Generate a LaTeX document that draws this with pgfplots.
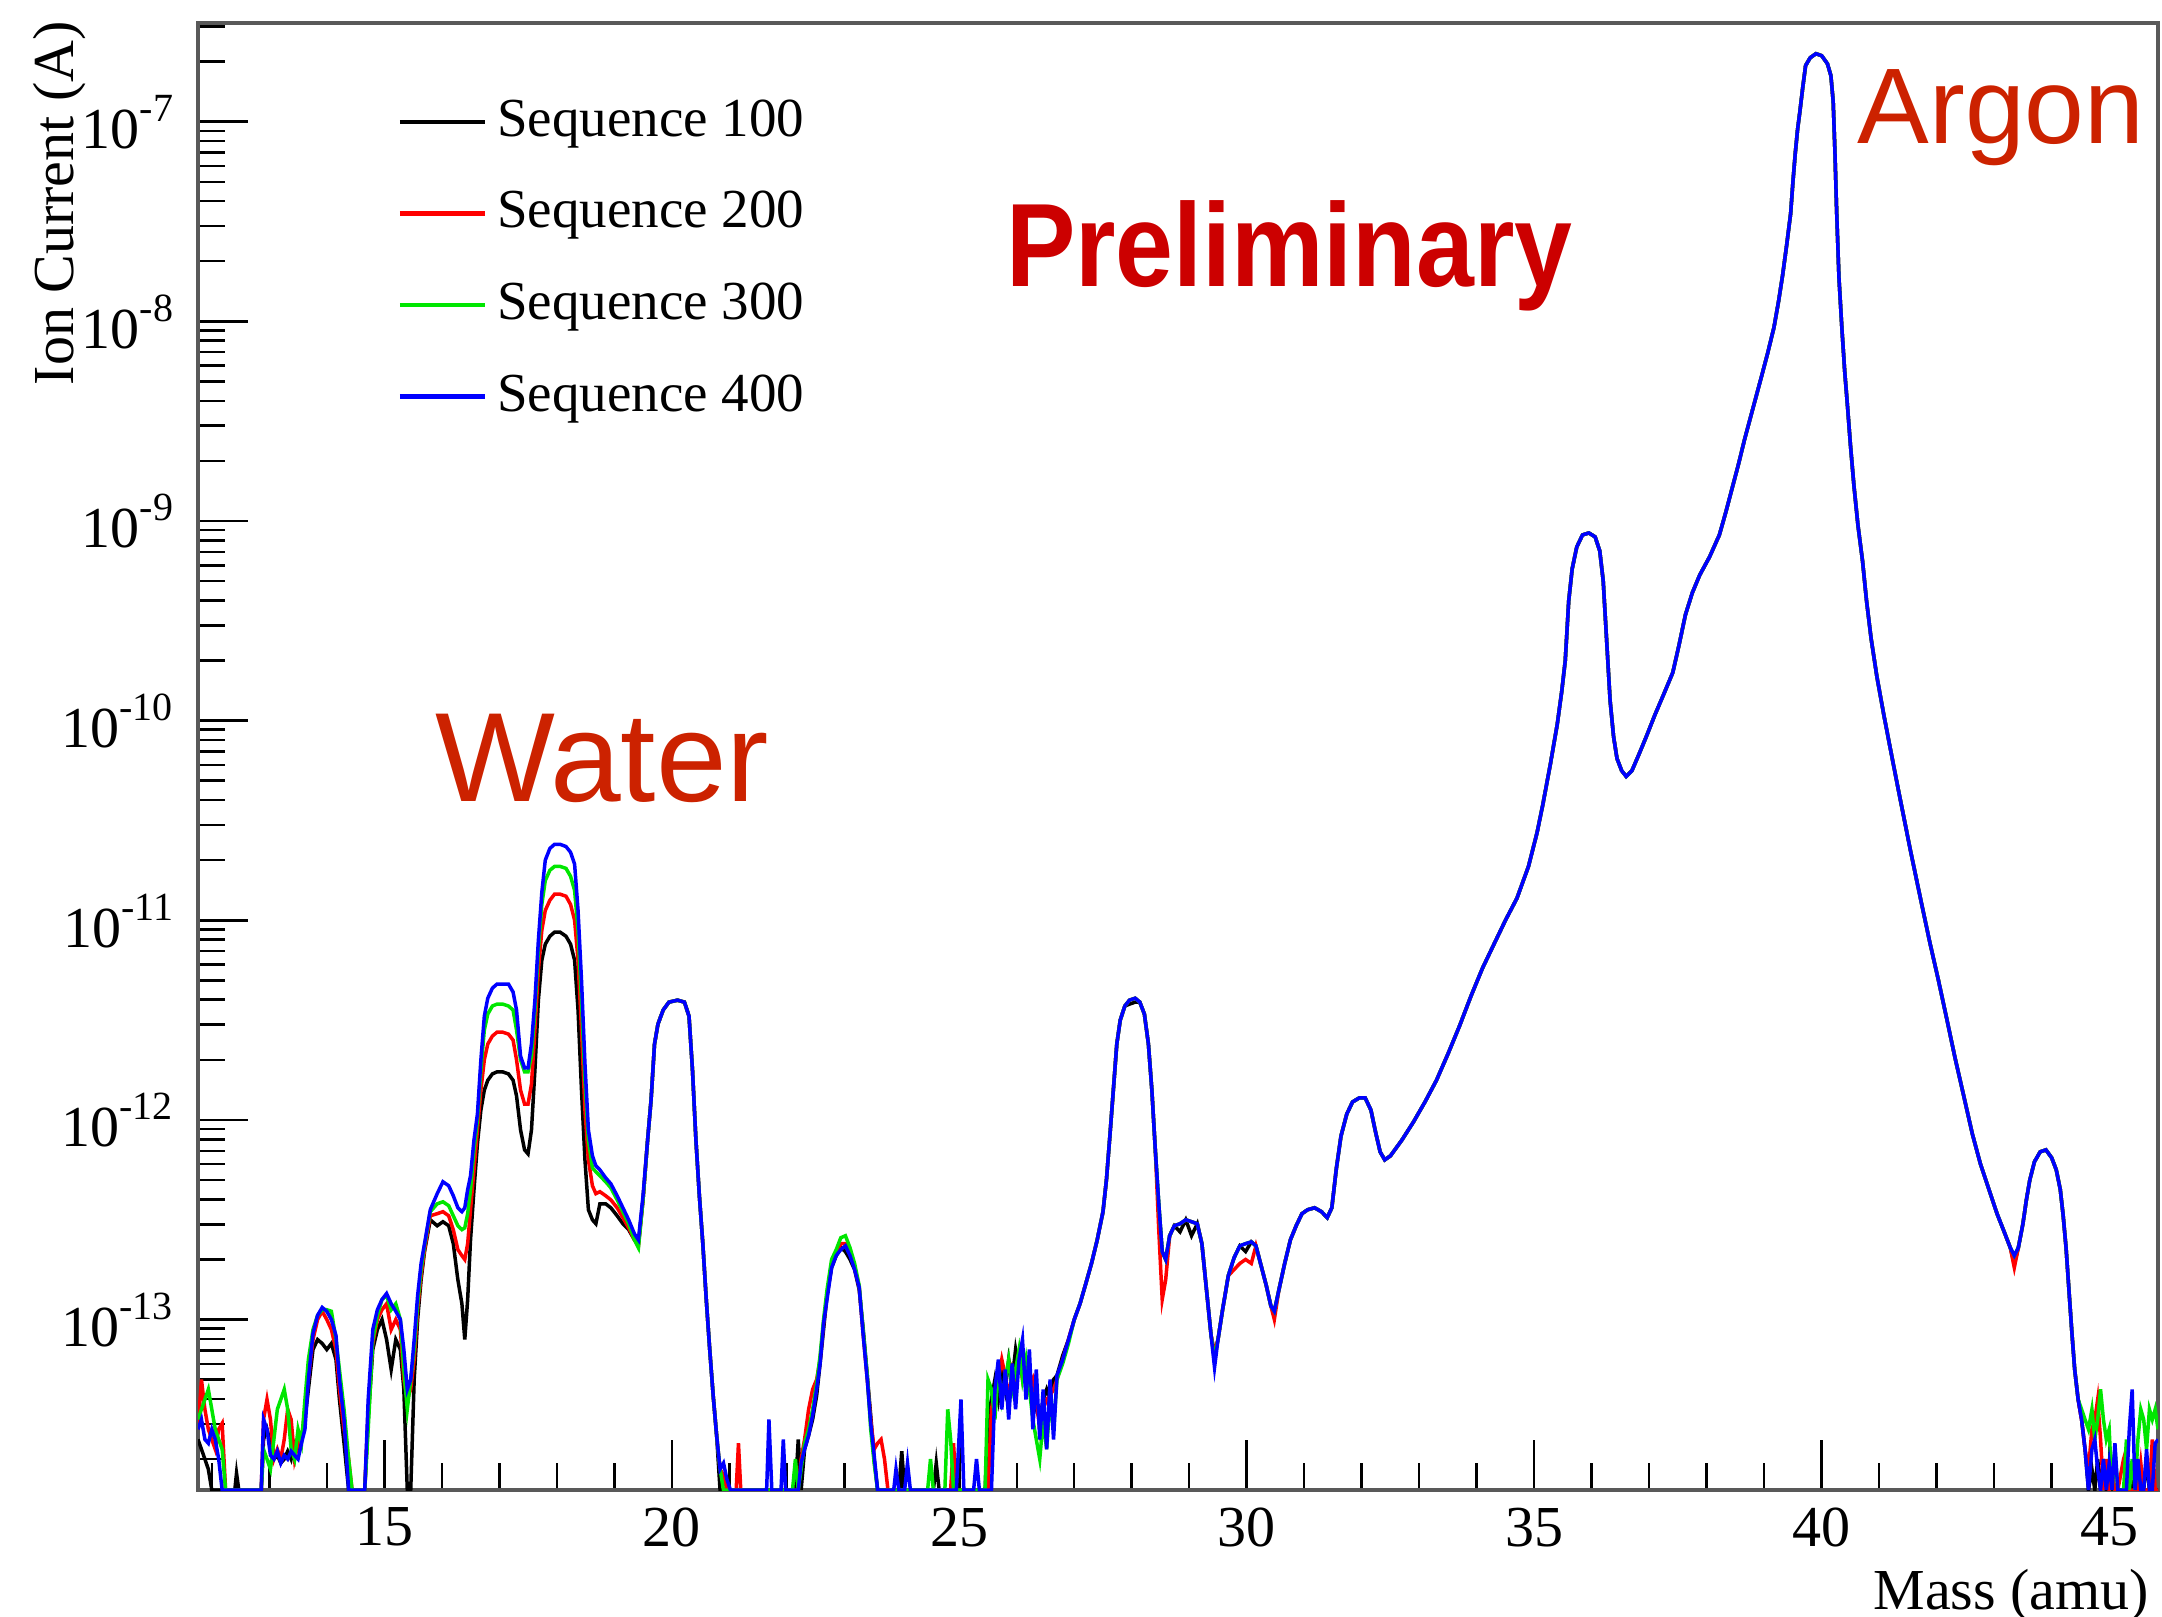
\documentclass[border=0pt]{standalone}
\usepackage{pgfplots}
\usepackage{pgfplotstable}
\pgfplotsset{compat=1.18}
\usepackage{fontspec}
\setmainfont{Liberation Serif}
\newfontfamily\sansf{Liberation Sans}
\definecolor{annot}{RGB}{204,34,0}
\definecolor{prelim}{RGB}{204,0,0}
\definecolor{sblue}{RGB}{0,0,255}
\definecolor{sgreen}{RGB}{0,230,0}
\definecolor{sred}{RGB}{255,0,0}
\newcommand{\pt}[1]{10\raisebox{5.4pt}{\fontsize{8}{9}\selectfont #1}}

% columns: mass, Sequence 100, 200, 300, 400 (ion current in A)
\pgfplotstableread{
x a b c d
11.76 2.51e-14 2.82e-14 3.16e-14 2.82e-14
11.82 2.24e-14 5.01e-14 3.55e-14 3.16e-14
11.88 2.00e-14 3.55e-14 3.98e-14 2.51e-14
11.94 1.78e-14 2.82e-14 4.47e-14 2.40e-14
12.00 1.4e-14 2.51e-14 3.55e-14 2.82e-14
12.06 1.4e-14 2.24e-14 2.82e-14 2.51e-14
12.12 1.4e-14 2.82e-14 2.51e-14 2.00e-14
12.18 1.4e-14 3.02e-14 2.24e-14 1.4e-14
12.24 1.4e-14 1.4e-14 1.4e-14 1.4e-14
12.40 1.4e-14 1.4e-14 1.4e-14 1.4e-14
12.43 1.70e-14 1.4e-14 1.4e-14 1.4e-14
12.47 1.4e-14 1.4e-14 1.4e-14 1.4e-14
12.86 1.4e-14 1.4e-14 1.4e-14 1.4e-14
12.90 2.51e-14 3.16e-14 2.24e-14 3.16e-14
12.96 2.82e-14 3.98e-14 2.00e-14 2.82e-14
13.02 2.40e-14 3.16e-14 1.78e-14 2.09e-14
13.08 2.00e-14 2.00e-14 2.51e-14 2.00e-14
13.14 2.09e-14 2.24e-14 3.55e-14 2.19e-14
13.20 1.91e-14 2.00e-14 3.98e-14 1.91e-14
13.26 2.00e-14 2.51e-14 4.47e-14 2.09e-14
13.32 2.19e-14 3.55e-14 3.55e-14 2.00e-14
13.38 2.00e-14 3.16e-14 2.24e-14 2.19e-14
13.44 2.40e-14 2.00e-14 2.00e-14 2.09e-14
13.50 2.24e-14 2.40e-14 2.82e-14 2.00e-14
13.56 2.51e-14 2.51e-14 2.40e-14 2.40e-14
13.62 3.16e-14 3.55e-14 3.98e-14 2.82e-14
13.68 4.47e-14 5.01e-14 6.31e-14 5.01e-14
13.76 7.08e-14 7.94e-14 8.91e-14 8.51e-14
13.84 7.94e-14 1.00e-13 1.05e-13 1.05e-13
13.92 7.59e-14 1.10e-13 1.12e-13 1.15e-13
14.00 7.08e-14 1.00e-13 1.12e-13 1.10e-13
14.08 7.59e-14 8.91e-14 1.10e-13 1.00e-13
14.16 6.31e-14 7.08e-14 7.94e-14 8.32e-14
14.22 3.98e-14 4.47e-14 5.62e-14 5.01e-14
14.30 2.40e-14 2.82e-14 3.55e-14 3.16e-14
14.38 1.4e-14 2.00e-14 2.00e-14 1.4e-14
14.44 1.4e-14 1.4e-14 1.4e-14 1.4e-14
14.66 1.4e-14 1.4e-14 1.4e-14 1.4e-14
14.72 3.16e-14 3.55e-14 2.82e-14 3.98e-14
14.80 7.08e-14 7.59e-14 7.94e-14 8.91e-14
14.88 8.91e-14 1.00e-13 1.05e-13 1.12e-13
14.96 1.00e-13 1.12e-13 1.26e-13 1.26e-13
15.04 7.94e-14 1.20e-13 1.32e-13 1.35e-13
15.12 5.62e-14 8.91e-14 1.12e-13 1.20e-13
15.20 7.94e-14 1.00e-13 1.20e-13 1.10e-13
15.28 7.08e-14 8.91e-14 1.00e-13 1.00e-13
15.34 4.47e-14 5.01e-14 5.62e-14 7.08e-14
15.40 1.4e-14 3.98e-14 3.55e-14 4.47e-14
15.46 1.4e-14 4.47e-14 5.01e-14 5.01e-14
15.52 5.01e-14 6.31e-14 7.08e-14 7.94e-14
15.58 1.00e-13 1.12e-13 1.20e-13 1.32e-13
15.64 1.58e-13 1.66e-13 1.78e-13 1.91e-13
15.70 2.19e-13 2.24e-13 2.34e-13 2.40e-13
15.80 3.16e-13 3.31e-13 3.47e-13 3.55e-13
15.92 2.95e-13 3.39e-13 3.80e-13 4.27e-13
16.02 3.09e-13 3.47e-13 3.89e-13 4.90e-13
16.12 2.95e-13 3.31e-13 3.72e-13 4.68e-13
16.20 2.40e-13 2.82e-13 3.31e-13 4.17e-13
16.28 1.58e-13 2.24e-13 2.95e-13 3.63e-13
16.35 1.20e-13 2.09e-13 2.82e-13 3.47e-13
16.40 7.94e-14 2.00e-13 2.88e-13 3.63e-13
16.45 1.26e-13 2.40e-13 3.39e-13 4.47e-13
16.50 2.51e-13 3.55e-13 4.47e-13 5.25e-13
16.56 4.47e-13 5.62e-13 7.08e-13 7.94e-13
16.62 7.59e-13 8.91e-13 1.00e-12 1.07e-12
16.68 1.12e-12 1.41e-12 1.78e-12 2.00e-12
16.74 1.41e-12 2.00e-12 2.82e-12 3.31e-12
16.80 1.58e-12 2.40e-12 3.39e-12 4.07e-12
16.88 1.70e-12 2.63e-12 3.72e-12 4.57e-12
16.96 1.74e-12 2.75e-12 3.80e-12 4.79e-12
17.06 1.74e-12 2.75e-12 3.80e-12 4.79e-12
17.16 1.70e-12 2.69e-12 3.72e-12 4.79e-12
17.24 1.58e-12 2.51e-12 3.55e-12 4.37e-12
17.30 1.32e-12 2.00e-12 2.82e-12 3.55e-12
17.37 8.91e-13 1.41e-12 2.00e-12 2.09e-12
17.44 7.08e-13 1.20e-12 1.74e-12 1.82e-12
17.50 6.76e-13 1.20e-12 1.74e-12 1.82e-12
17.56 8.91e-13 1.51e-12 2.09e-12 2.40e-12
17.62 1.78e-12 2.82e-12 3.55e-12 3.98e-12
17.68 3.98e-12 5.62e-12 7.08e-12 7.94e-12
17.74 6.31e-12 8.91e-12 1.20e-11 1.38e-11
17.80 7.59e-12 1.12e-11 1.58e-11 2.00e-11
17.88 8.32e-12 1.26e-11 1.78e-11 2.29e-11
17.96 8.71e-12 1.35e-11 1.86e-11 2.40e-11
18.06 8.71e-12 1.35e-11 1.86e-11 2.40e-11
18.16 8.32e-12 1.32e-11 1.82e-11 2.34e-11
18.24 7.59e-12 1.20e-11 1.66e-11 2.19e-11
18.31 6.31e-12 1.00e-11 1.41e-11 1.91e-11
18.37 3.55e-12 6.31e-12 8.91e-12 1.12e-11
18.43 1.41e-12 2.82e-12 3.98e-12 5.01e-12
18.49 6.31e-13 1.12e-12 1.58e-12 1.91e-12
18.55 3.55e-13 6.31e-13 7.94e-13 8.91e-13
18.62 3.16e-13 4.68e-13 5.75e-13 6.61e-13
18.68 3.02e-13 4.27e-13 5.50e-13 5.89e-13
18.75 3.80e-13 4.37e-13 5.25e-13 5.62e-13
18.85 3.80e-13 4.17e-13 4.90e-13 5.13e-13
18.94 3.63e-13 3.98e-13 4.57e-13 4.79e-13
19.05 3.31e-13 3.63e-13 3.98e-13 4.17e-13
19.15 3.02e-13 3.24e-13 3.47e-13 3.63e-13
19.25 2.82e-13 2.88e-13 3.02e-13 3.16e-13
19.35 2.51e-13 2.51e-13 2.51e-13 2.69e-13
19.42 2.40e-13 2.34e-13 2.29e-13 2.51e-13
19.50 3.98e-13 3.98e-13 3.98e-13 4.17e-13
19.58 7.94e-13 7.94e-13 7.94e-13 7.94e-13
19.64 1.26e-12 1.26e-12 1.26e-12 1.26e-12
19.70 2.40e-12 2.40e-12 2.40e-12 2.40e-12
19.76 3.02e-12 3.02e-12 3.02e-12 3.02e-12
19.85 3.55e-12 3.55e-12 3.55e-12 3.55e-12
19.95 3.89e-12 3.89e-12 3.89e-12 3.89e-12
20.10 3.98e-12 3.98e-12 3.98e-12 3.98e-12
20.22 3.89e-12 3.89e-12 3.89e-12 3.89e-12
20.30 3.31e-12 3.31e-12 3.31e-12 3.31e-12
20.36 1.78e-12 1.78e-12 1.78e-12 1.78e-12
20.42 7.94e-13 7.94e-13 7.94e-13 7.94e-13
20.48 4.17e-13 4.17e-13 4.17e-13 4.17e-13
20.54 2.40e-13 2.40e-13 2.40e-13 2.40e-13
20.60 1.26e-13 1.26e-13 1.26e-13 1.26e-13
20.66 7.08e-14 7.08e-14 7.08e-14 7.08e-14
20.72 4.17e-14 4.17e-14 4.17e-14 4.17e-14
20.78 2.63e-14 2.63e-14 2.63e-14 2.63e-14
20.84 1.4e-14 1.78e-14 1.78e-14 1.78e-14
20.90 1.4e-14 1.66e-14 1.4e-14 1.91e-14
20.96 1.4e-14 1.4e-14 1.4e-14 1.58e-14
21.02 1.4e-14 1.4e-14 1.4e-14 1.4e-14
21.12 1.4e-14 1.4e-14 1.4e-14 1.4e-14
21.16 1.4e-14 2.40e-14 1.4e-14 1.4e-14
21.20 1.4e-14 1.4e-14 1.4e-14 1.4e-14
21.65 1.4e-14 1.4e-14 1.4e-14 1.4e-14
21.69 1.4e-14 1.4e-14 1.4e-14 3.16e-14
21.74 1.4e-14 1.4e-14 1.4e-14 1.4e-14
21.90 1.4e-14 1.4e-14 1.4e-14 1.4e-14
21.94 1.4e-14 1.4e-14 1.4e-14 2.51e-14
21.98 1.4e-14 1.4e-14 1.4e-14 1.4e-14
22.10 1.4e-14 1.4e-14 1.4e-14 1.4e-14
22.15 1.4e-14 1.4e-14 2.00e-14 1.4e-14
22.20 2.51e-14 1.4e-14 1.4e-14 1.4e-14
22.25 1.4e-14 2.00e-14 1.78e-14 1.91e-14
22.31 2.24e-14 2.51e-14 2.40e-14 2.24e-14
22.38 2.63e-14 3.55e-14 2.82e-14 2.63e-14
22.45 3.16e-14 4.47e-14 3.55e-14 3.31e-14
22.52 4.17e-14 5.01e-14 4.79e-14 4.47e-14
22.58 6.03e-14 6.31e-14 6.61e-14 6.03e-14
22.64 8.91e-14 9.55e-14 1.00e-13 9.55e-14
22.70 1.32e-13 1.32e-13 1.41e-13 1.26e-13
22.78 1.82e-13 1.91e-13 2.00e-13 1.82e-13
22.86 2.09e-13 2.14e-13 2.24e-13 2.09e-13
22.94 2.29e-13 2.40e-13 2.57e-13 2.24e-13
23.02 2.19e-13 2.40e-13 2.63e-13 2.34e-13
23.10 2.00e-13 2.14e-13 2.29e-13 2.09e-13
23.18 1.78e-13 1.82e-13 1.91e-13 1.78e-13
23.26 1.41e-13 1.45e-13 1.48e-13 1.45e-13
23.33 8.91e-14 8.32e-14 8.71e-14 8.32e-14
23.40 5.25e-14 5.01e-14 5.25e-14 5.01e-14
23.46 3.31e-14 3.16e-14 2.82e-14 3.02e-14
23.52 2.00e-14 2.24e-14 1.91e-14 2.09e-14
23.58 1.4e-14 2.40e-14 1.4e-14 1.4e-14
23.64 1.4e-14 2.51e-14 1.4e-14 1.4e-14
23.70 1.4e-14 2.00e-14 1.4e-14 1.4e-14
23.76 1.4e-14 1.4e-14 1.4e-14 1.4e-14
23.86 1.4e-14 1.4e-14 1.4e-14 1.4e-14
23.90 1.4e-14 1.4e-14 1.4e-14 1.78e-14
23.95 1.4e-14 1.4e-14 1.4e-14 1.4e-14
24.00 2.19e-14 1.4e-14 1.4e-14 1.4e-14
24.05 1.4e-14 1.4e-14 1.4e-14 1.4e-14
24.10 1.4e-14 1.4e-14 1.4e-14 1.91e-14
24.15 1.4e-14 1.4e-14 1.4e-14 1.4e-14
24.45 1.4e-14 1.4e-14 1.4e-14 1.4e-14
24.50 1.4e-14 1.4e-14 2.00e-14 1.4e-14
24.55 1.4e-14 1.4e-14 1.4e-14 1.4e-14
24.60 1.91e-14 1.4e-14 1.4e-14 1.4e-14
24.65 1.4e-14 1.4e-14 1.4e-14 1.4e-14
24.75 1.4e-14 1.4e-14 1.4e-14 1.4e-14
24.80 1.4e-14 1.4e-14 3.55e-14 1.4e-14
24.85 1.4e-14 1.4e-14 2.51e-14 1.4e-14
24.90 1.4e-14 2.40e-14 1.4e-14 1.4e-14
24.95 1.4e-14 1.4e-14 1.4e-14 1.4e-14
25.03 1.4e-14 1.4e-14 1.4e-14 3.98e-14
25.08 1.4e-14 1.4e-14 1.4e-14 1.4e-14
25.25 1.4e-14 1.4e-14 1.4e-14 1.4e-14
25.30 1.4e-14 1.4e-14 1.4e-14 2.00e-14
25.35 1.4e-14 1.4e-14 1.4e-14 1.4e-14
25.45 1.4e-14 1.4e-14 1.4e-14 1.4e-14
25.50 3.16e-14 1.4e-14 5.01e-14 1.4e-14
25.56 3.98e-14 3.55e-14 4.47e-14 1.4e-14
25.62 5.01e-14 4.47e-14 3.16e-14 4.47e-14
25.68 3.98e-14 5.01e-14 5.62e-14 6.31e-14
25.74 5.62e-14 6.31e-14 3.98e-14 3.55e-14
25.80 4.47e-14 5.25e-14 5.01e-14 5.62e-14
25.86 6.31e-14 3.98e-14 6.31e-14 3.16e-14
25.92 5.01e-14 5.62e-14 4.47e-14 6.03e-14
25.98 7.08e-14 5.01e-14 5.62e-14 3.55e-14
26.04 5.62e-14 6.61e-14 7.08e-14 6.31e-14
26.10 6.31e-14 5.01e-14 5.01e-14 7.94e-14
26.16 5.01e-14 5.62e-14 6.31e-14 3.98e-14
26.22 5.62e-14 4.47e-14 4.47e-14 7.08e-14
26.28 4.47e-14 5.01e-14 3.16e-14 2.82e-14
26.34 3.55e-14 3.98e-14 2.51e-14 5.62e-14
26.40 3.16e-14 2.82e-14 2.00e-14 2.51e-14
26.46 3.98e-14 3.55e-14 3.16e-14 4.47e-14
26.52 4.47e-14 3.98e-14 2.24e-14 2.24e-14
26.58 3.98e-14 4.17e-14 3.98e-14 5.01e-14
26.64 5.01e-14 4.47e-14 2.82e-14 2.51e-14
26.70 5.25e-14 5.01e-14 5.01e-14 5.25e-14
26.80 6.61e-14 6.31e-14 6.03e-14 6.31e-14
26.90 7.94e-14 7.94e-14 7.59e-14 7.94e-14
27.00 1.00e-13 1.00e-13 1.00e-13 1.00e-13
27.10 1.20e-13 1.20e-13 1.20e-13 1.20e-13
27.20 1.51e-13 1.51e-13 1.51e-13 1.51e-13
27.30 1.91e-13 1.91e-13 1.91e-13 1.91e-13
27.40 2.51e-13 2.51e-13 2.51e-13 2.51e-13
27.50 3.47e-13 3.47e-13 3.47e-13 3.47e-13
27.56 5.01e-13 5.01e-13 5.01e-13 5.01e-13
27.62 8.32e-13 8.32e-13 8.32e-13 8.32e-13
27.68 1.41e-12 1.41e-12 1.41e-12 1.41e-12
27.74 2.40e-12 2.40e-12 2.40e-12 2.40e-12
27.80 3.16e-12 3.16e-12 3.16e-12 3.16e-12
27.88 3.72e-12 3.72e-12 3.72e-12 3.72e-12
27.96 3.80e-12 3.98e-12 3.98e-12 3.98e-12
28.06 3.89e-12 4.07e-12 4.07e-12 4.07e-12
28.14 3.89e-12 3.89e-12 3.89e-12 3.89e-12
28.22 3.39e-12 3.39e-12 3.39e-12 3.39e-12
28.29 2.40e-12 2.40e-12 2.40e-12 2.40e-12
28.35 1.41e-12 1.41e-12 1.41e-12 1.41e-12
28.41 7.08e-13 7.08e-13 7.08e-13 7.08e-13
28.47 3.80e-13 2.82e-13 3.80e-13 3.80e-13
28.53 2.19e-13 1.26e-13 2.19e-13 2.19e-13
28.59 2.00e-13 1.58e-13 2.00e-13 2.00e-13
28.66 2.63e-13 2.63e-13 2.63e-13 2.63e-13
28.74 2.95e-13 2.95e-13 2.95e-13 2.95e-13
28.84 2.75e-13 3.02e-13 3.02e-13 3.02e-13
28.94 3.16e-13 3.16e-13 3.16e-13 3.16e-13
29.04 2.63e-13 3.09e-13 3.09e-13 3.09e-13
29.14 3.02e-13 3.02e-13 3.02e-13 3.02e-13
29.22 2.40e-13 2.40e-13 2.40e-13 2.40e-13
29.30 1.41e-13 1.41e-13 1.41e-13 1.41e-13
29.38 8.32e-14 8.32e-14 8.32e-14 8.32e-14
29.44 6.76e-14 6.76e-14 6.31e-14 5.75e-14
29.50 7.94e-14 7.94e-14 7.94e-14 7.94e-14
29.58 1.12e-13 1.12e-13 1.12e-13 1.12e-13
29.68 1.66e-13 1.66e-13 1.66e-13 1.66e-13
29.78 2.04e-13 1.78e-13 2.04e-13 2.04e-13
29.88 2.34e-13 1.91e-13 2.34e-13 2.34e-13
29.98 2.19e-13 2.00e-13 2.40e-13 2.40e-13
30.08 2.45e-13 1.91e-13 2.45e-13 2.45e-13
30.16 2.34e-13 2.34e-13 2.34e-13 2.34e-13
30.24 1.91e-13 1.91e-13 1.91e-13 1.91e-13
30.34 1.48e-13 1.48e-13 1.48e-13 1.48e-13
30.42 1.17e-13 1.17e-13 1.17e-13 1.17e-13
30.48 1.10e-13 1.00e-13 1.10e-13 1.10e-13
30.56 1.41e-13 1.41e-13 1.41e-13 1.41e-13
30.66 1.91e-13 1.91e-13 1.91e-13 1.91e-13
30.76 2.51e-13 2.51e-13 2.51e-13 2.51e-13
30.86 2.95e-13 2.95e-13 2.95e-13 2.95e-13
30.96 3.39e-13 3.39e-13 3.39e-13 3.39e-13
31.06 3.55e-13 3.55e-13 3.55e-13 3.55e-13
31.18 3.63e-13 3.63e-13 3.63e-13 3.63e-13
31.30 3.47e-13 3.47e-13 3.47e-13 3.47e-13
31.40 3.24e-13 3.24e-13 3.24e-13 3.24e-13
31.48 3.63e-13 3.63e-13 3.63e-13 3.63e-13
31.56 5.75e-13 5.75e-13 5.75e-13 5.75e-13
31.64 8.32e-13 8.32e-13 8.32e-13 8.32e-13
31.74 1.07e-12 1.07e-12 1.07e-12 1.07e-12
31.84 1.23e-12 1.23e-12 1.23e-12 1.23e-12
31.96 1.29e-12 1.29e-12 1.29e-12 1.29e-12
32.06 1.29e-12 1.29e-12 1.29e-12 1.29e-12
32.16 1.12e-12 1.12e-12 1.12e-12 1.12e-12
32.24 8.71e-13 8.71e-13 8.71e-13 8.71e-13
32.32 6.92e-13 6.92e-13 6.92e-13 6.92e-13
32.40 6.31e-13 6.31e-13 6.31e-13 6.31e-13
32.50 6.61e-13 6.61e-13 6.61e-13 6.61e-13
32.70 7.94e-13 7.94e-13 7.94e-13 7.94e-13
32.90 9.77e-13 9.77e-13 9.77e-13 9.77e-13
33.10 1.23e-12 1.23e-12 1.23e-12 1.23e-12
33.30 1.58e-12 1.58e-12 1.58e-12 1.58e-12
33.50 2.14e-12 2.14e-12 2.14e-12 2.14e-12
33.70 2.95e-12 2.95e-12 2.95e-12 2.95e-12
33.90 4.17e-12 4.17e-12 4.17e-12 4.17e-12
34.10 5.75e-12 5.75e-12 5.75e-12 5.75e-12
34.30 7.59e-12 7.59e-12 7.59e-12 7.59e-12
34.50 1.00e-11 1.00e-11 1.00e-11 1.00e-11
34.70 1.29e-11 1.29e-11 1.29e-11 1.29e-11
34.90 1.86e-11 1.86e-11 1.86e-11 1.86e-11
35.05 2.75e-11 2.75e-11 2.75e-11 2.75e-11
35.15 3.80e-11 3.80e-11 3.80e-11 3.80e-11
35.28 6.03e-11 6.03e-11 6.03e-11 6.03e-11
35.40 9.55e-11 9.55e-11 9.55e-11 9.55e-11
35.48 1.41e-10 1.41e-10 1.41e-10 1.41e-10
35.54 2.00e-10 2.00e-10 2.00e-10 2.00e-10
35.60 3.98e-10 3.98e-10 3.98e-10 3.98e-10
35.66 5.75e-10 5.75e-10 5.75e-10 5.75e-10
35.74 7.41e-10 7.41e-10 7.41e-10 7.41e-10
35.84 8.51e-10 8.51e-10 8.51e-10 8.51e-10
35.95 8.71e-10 8.71e-10 8.71e-10 8.71e-10
36.06 8.32e-10 8.32e-10 8.32e-10 8.32e-10
36.14 7.08e-10 7.08e-10 7.08e-10 7.08e-10
36.20 5.01e-10 5.01e-10 5.01e-10 5.01e-10
36.26 2.51e-10 2.51e-10 2.51e-10 2.51e-10
36.32 1.26e-10 1.26e-10 1.26e-10 1.26e-10
36.38 8.32e-11 8.32e-11 8.32e-11 8.32e-11
36.44 6.46e-11 6.46e-11 6.46e-11 6.46e-11
36.52 5.62e-11 5.62e-11 5.62e-11 5.62e-11
36.60 5.25e-11 5.25e-11 5.25e-11 5.25e-11
36.70 5.62e-11 5.62e-11 5.62e-11 5.62e-11
36.82 6.76e-11 6.76e-11 6.76e-11 6.76e-11
36.95 8.32e-11 8.32e-11 8.32e-11 8.32e-11
37.10 1.07e-10 1.07e-10 1.07e-10 1.07e-10
37.25 1.35e-10 1.35e-10 1.35e-10 1.35e-10
37.41 1.74e-10 1.74e-10 1.74e-10 1.74e-10
37.52 2.40e-10 2.40e-10 2.40e-10 2.40e-10
37.63 3.39e-10 3.39e-10 3.39e-10 3.39e-10
37.75 4.37e-10 4.37e-10 4.37e-10 4.37e-10
37.88 5.37e-10 5.37e-10 5.37e-10 5.37e-10
38.05 6.61e-10 6.61e-10 6.61e-10 6.61e-10
38.22 8.51e-10 8.51e-10 8.51e-10 8.51e-10
38.33 1.10e-9 1.10e-9 1.10e-9 1.10e-9
38.44 1.45e-9 1.45e-9 1.45e-9 1.45e-9
38.55 1.91e-9 1.91e-9 1.91e-9 1.91e-9
38.66 2.57e-9 2.57e-9 2.57e-9 2.57e-9
38.80 3.63e-9 3.63e-9 3.63e-9 3.63e-9
38.95 5.25e-9 5.25e-9 5.25e-9 5.25e-9
39.06 6.92e-9 6.92e-9 6.92e-9 6.92e-9
39.17 9.33e-9 9.33e-9 9.33e-9 9.33e-9
39.25 1.26e-8 1.26e-8 1.26e-8 1.26e-8
39.32 1.70e-8 1.70e-8 1.70e-8 1.70e-8
39.39 2.40e-8 2.40e-8 2.40e-8 2.40e-8
39.46 3.47e-8 3.47e-8 3.47e-8 3.47e-8
39.50 5.01e-8 5.01e-8 5.01e-8 5.01e-8
39.54 6.92e-8 6.92e-8 6.92e-8 6.92e-8
39.58 9.12e-8 9.12e-8 9.12e-8 9.12e-8
39.62 1.12e-7 1.12e-7 1.12e-7 1.12e-7
39.67 1.48e-7 1.48e-7 1.48e-7 1.48e-7
39.72 1.91e-7 1.91e-7 1.91e-7 1.91e-7
39.80 2.09e-7 2.09e-7 2.09e-7 2.09e-7
39.90 2.19e-7 2.19e-7 2.19e-7 2.19e-7
40.00 2.14e-7 2.14e-7 2.14e-7 2.14e-7
40.10 1.95e-7 1.95e-7 1.95e-7 1.95e-7
40.16 1.70e-7 1.70e-7 1.70e-7 1.70e-7
40.20 1.26e-7 1.26e-7 1.26e-7 1.26e-7
40.23 7.08e-8 7.08e-8 7.08e-8 7.08e-8
40.26 3.55e-8 3.55e-8 3.55e-8 3.55e-8
40.30 1.66e-8 1.66e-8 1.66e-8 1.66e-8
40.35 9.33e-9 9.33e-9 9.33e-9 9.33e-9
40.40 5.62e-9 5.62e-9 5.62e-9 5.62e-9
40.45 3.72e-9 3.72e-9 3.72e-9 3.72e-9
40.50 2.40e-9 2.40e-9 2.40e-9 2.40e-9
40.56 1.51e-9 1.51e-9 1.51e-9 1.51e-9
40.63 9.55e-10 9.55e-10 9.55e-10 9.55e-10
40.71 6.31e-10 6.31e-10 6.31e-10 6.31e-10
40.78 3.98e-10 3.98e-10 3.98e-10 3.98e-10
40.86 2.57e-10 2.57e-10 2.57e-10 2.57e-10
40.96 1.66e-10 1.66e-10 1.66e-10 1.66e-10
41.08 1.07e-10 1.07e-10 1.07e-10 1.07e-10
41.22 6.61e-11 6.61e-11 6.61e-11 6.61e-11
41.37 3.98e-11 3.98e-11 3.98e-11 3.98e-11
41.55 2.19e-11 2.19e-11 2.19e-11 2.19e-11
41.74 1.20e-11 1.20e-11 1.20e-11 1.20e-11
41.88 7.76e-12 7.76e-12 7.76e-12 7.76e-12
42.03 5.01e-12 5.01e-12 5.01e-12 5.01e-12
42.18 3.16e-12 3.16e-12 3.16e-12 3.16e-12
42.32 2.04e-12 2.04e-12 2.04e-12 2.04e-12
42.47 1.32e-12 1.32e-12 1.32e-12 1.32e-12
42.62 8.51e-13 8.51e-13 8.51e-13 8.51e-13
42.76 6.03e-13 6.03e-13 6.03e-13 6.03e-13
42.91 4.47e-13 4.47e-13 4.47e-13 4.47e-13
43.05 3.39e-13 3.39e-13 3.39e-13 3.39e-13
43.20 2.63e-13 2.63e-13 2.63e-13 2.63e-13
43.28 2.29e-13 2.29e-13 2.29e-13 2.29e-13
43.35 1.91e-13 1.82e-13 2.09e-13 2.09e-13
43.42 2.29e-13 2.29e-13 2.29e-13 2.29e-13
43.50 3.02e-13 3.02e-13 3.02e-13 3.02e-13
43.56 3.98e-13 3.98e-13 3.98e-13 3.98e-13
43.62 5.01e-13 5.01e-13 5.01e-13 5.01e-13
43.70 6.17e-13 6.17e-13 6.17e-13 6.17e-13
43.80 6.92e-13 6.92e-13 6.92e-13 6.92e-13
43.90 7.08e-13 7.08e-13 7.08e-13 7.08e-13
44.00 6.46e-13 6.46e-13 6.46e-13 6.46e-13
44.08 5.62e-13 5.62e-13 5.62e-13 5.62e-13
44.15 4.47e-13 4.47e-13 4.47e-13 4.47e-13
44.20 3.31e-13 3.31e-13 3.31e-13 3.31e-13
44.25 2.29e-13 2.29e-13 2.29e-13 2.29e-13
44.30 1.41e-13 1.41e-13 1.41e-13 1.41e-13
44.35 8.71e-14 8.71e-14 8.71e-14 8.71e-14
44.40 5.62e-14 5.62e-14 5.62e-14 5.62e-14
44.46 3.98e-14 3.98e-14 3.98e-14 3.98e-14
44.52 3.16e-14 3.16e-14 3.55e-14 3.16e-14
44.58 2.24e-14 2.24e-14 3.16e-14 2.24e-14
44.64 1.4e-14 1.78e-14 2.82e-14 1.4e-14
44.70 1.78e-14 2.82e-14 3.55e-14 2.24e-14
44.75 1.4e-14 3.16e-14 2.51e-14 2.51e-14
44.80 2.00e-14 3.98e-14 3.16e-14 1.78e-14
44.85 1.4e-14 2.51e-14 4.47e-14 1.4e-14
44.90 2.00e-14 1.4e-14 3.16e-14 2.00e-14
44.95 1.4e-14 2.00e-14 2.51e-14 1.4e-14
45.00 1.4e-14 1.4e-14 2.82e-14 1.91e-14
45.05 1.4e-14 1.78e-14 1.4e-14 1.4e-14
45.10 1.4e-14 1.4e-14 2.24e-14 2.40e-14
45.15 1.4e-14 1.4e-14 1.4e-14 1.4e-14
45.25 1.4e-14 2.00e-14 1.4e-14 1.4e-14
45.30 1.4e-14 2.24e-14 2.51e-14 1.4e-14
45.35 1.4e-14 1.4e-14 1.4e-14 2.82e-14
45.40 1.4e-14 1.4e-14 2.00e-14 4.47e-14
45.45 1.78e-14 1.4e-14 1.4e-14 1.4e-14
45.50 1.4e-14 1.4e-14 2.51e-14 2.00e-14
45.55 1.4e-14 1.91e-14 3.55e-14 1.4e-14
45.60 1.4e-14 1.4e-14 3.16e-14 1.4e-14
45.65 2.00e-14 1.4e-14 2.24e-14 2.24e-14
45.70 1.4e-14 1.4e-14 3.55e-14 1.4e-14
45.75 1.4e-14 2.51e-14 3.16e-14 1.4e-14
45.80 1.4e-14 1.4e-14 3.55e-14 2.40e-14
45.85 1.4e-14 1.4e-14 2.82e-14 2.51e-14
}\seqdata

\begin{document}
\begin{tikzpicture}
\path[use as bounding box] (-39.6pt,-25.2pt) rectangle (392.8pt,298pt);
\begin{axis}[
  scale only axis,
  width=392pt, height=293.4pt,
  xmin=11.76, xmax=45.85,
  ymode=log, ymin=1.4e-14, ymax=3.12e-7,
  axis line style={black!65, line width=0.9pt},
  tick style={black, line width=0.5pt},
  tick align=inside,
  xtick pos=bottom, ytick pos=left,
  major tick length=10pt, minor tick length=5.4pt,
  xtick={15,20,25,30,35,40,45},
  minor xtick={12,13,14,16,17,18,19,21,22,23,24,26,27,28,29,31,32,33,34,36,37,38,39,41,42,43,44},
  ytick={1e-13,1e-12,1e-11,1e-10,1e-9,1e-8,1e-7},
  yticklabels={\pt{-13},\pt{-12},\pt{-11},\pt{-10},\pt{-9},\pt{-8},\pt{-7}},
  minor ytick={2e-14,3e-14,4e-14,5e-14,6e-14,7e-14,8e-14,9e-14,
    2e-13,3e-13,4e-13,5e-13,6e-13,7e-13,8e-13,9e-13,
    2e-12,3e-12,4e-12,5e-12,6e-12,7e-12,8e-12,9e-12,
    2e-11,3e-11,4e-11,5e-11,6e-11,7e-11,8e-11,9e-11,
    2e-10,3e-10,4e-10,5e-10,6e-10,7e-10,8e-10,9e-10,
    2e-9,3e-9,4e-9,5e-9,6e-9,7e-9,8e-9,9e-9,
    2e-8,3e-8,4e-8,5e-8,6e-8,7e-8,8e-8,9e-8,
    2e-7,3e-7},
  /pgf/number format/assume math mode=true,
  ticklabel style={font=\fontsize{11.6}{13}\selectfont},
  yticklabel style={anchor=base east, inner sep=0pt, yshift=-5.4pt, xshift=-4.8pt},
  xlabel={Mass (amu)},
  ylabel={Ion Current (A)},
  xlabel style={font=\fontsize{11.6}{13}\selectfont, at={(axis description cs:1,0)}, anchor=base east, inner sep=0pt, yshift=-23.8pt, xshift=-1.6pt},
  ylabel style={font=\fontsize{11.6}{13}\selectfont, at={(axis description cs:-0.0704,1.002)}, anchor=east, inner sep=0pt},
  legend style={draw=none, fill=none, at={(axis description cs:0.0937,0.962)}, anchor=north west,
    font=\fontsize{11}{13}\selectfont, row sep=5.5pt},
  legend cell align=left,
  legend image code/.code={\draw[#1, line width=0.9pt] (0pt,0pt) -- (17pt,0pt);},
  every axis plot/.append style={line width=0.7pt},
]
\addplot[black] table[x=x, y=a] {\seqdata};
\addlegendentry{Sequence 100}
\addplot[sred] table[x=x, y=b] {\seqdata};
\addlegendentry{Sequence 200}
\addplot[sgreen] table[x=x, y=c] {\seqdata};
\addlegendentry{Sequence 300}
\addplot[sblue] table[x=x, y=d] {\seqdata};
\addlegendentry{Sequence 400}
\end{axis}
\node[anchor=base west, inner sep=0pt, text=prelim, font=\sansf\bfseries\fontsize{20.8}{24}\selectfont, yscale=1.14] at (161.4pt,240.6pt) {Preliminary};
\node[anchor=base west, inner sep=0pt, text=annot, font=\sansf\fontsize{25.4}{30}\selectfont] at (47.2pt,137.6pt) {Water};
\node[anchor=base west, inner sep=0pt, text=annot, font=\sansf\fontsize{21.5}{26}\selectfont] at (331.7pt,269.2pt) {Argon};
\end{tikzpicture}
\end{document}
